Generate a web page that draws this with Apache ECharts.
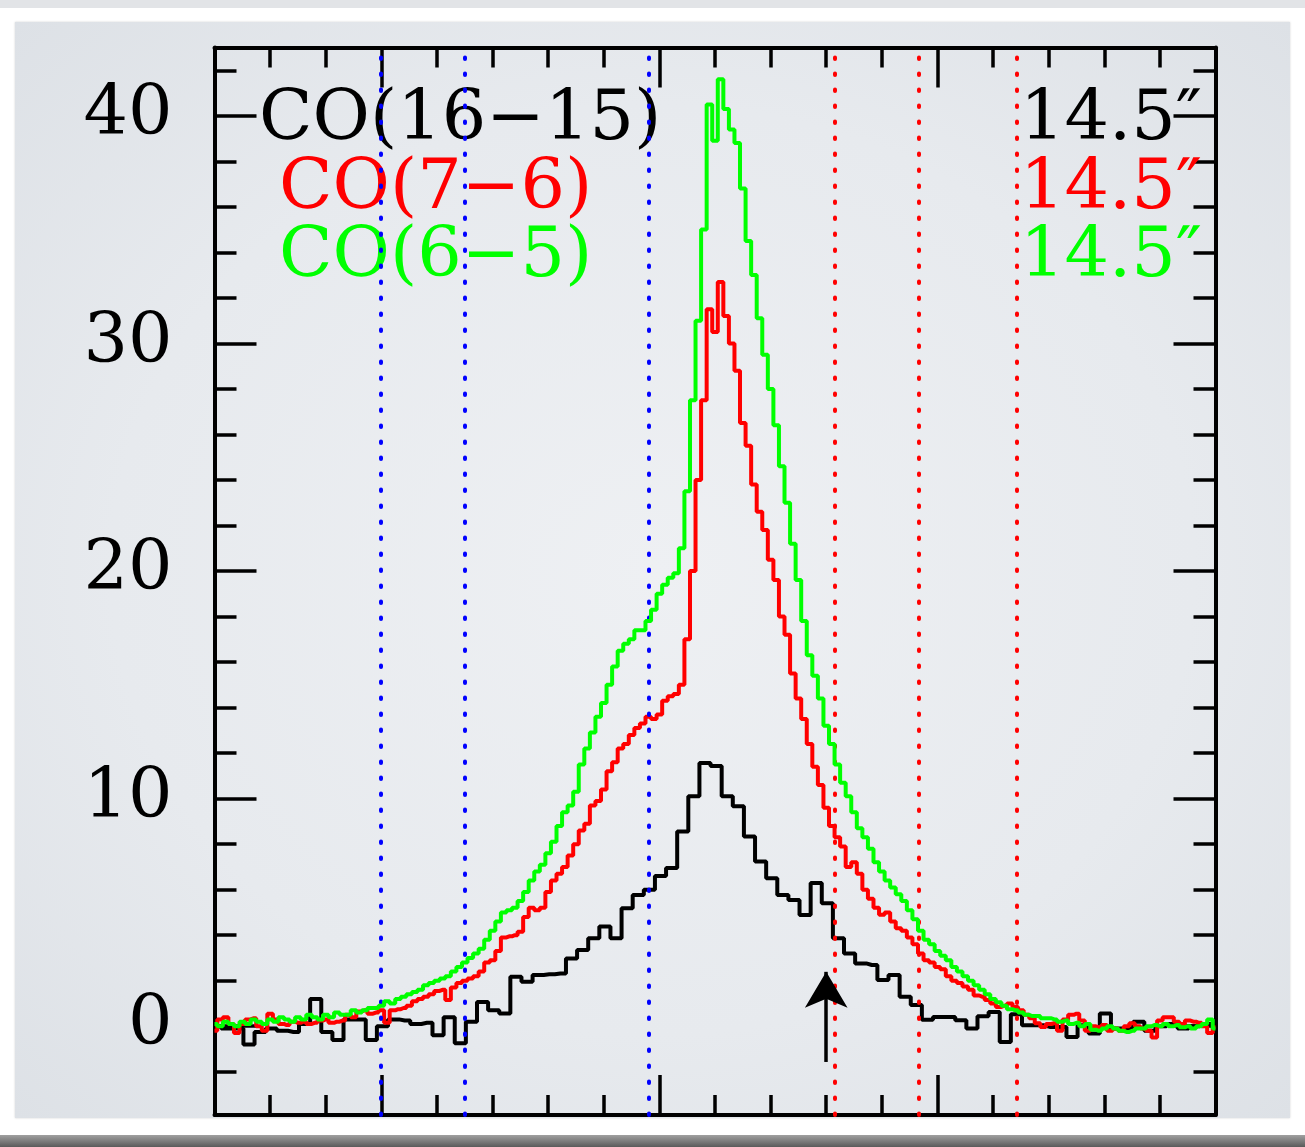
<!DOCTYPE html>
<html><head><meta charset="utf-8">
<script src="https://cdn.jsdelivr.net/npm/echarts@6/dist/echarts.min.js"></script>
<style>
html,body{margin:0;padding:0;background:#fff;}
#wrap{position:relative;width:1305px;height:1147px;overflow:hidden;background:#fff;}
#topstrip{position:absolute;left:0;top:0;width:1305px;height:8px;background:#e2e4e7;}
#panel{position:absolute;left:15px;top:22px;width:1275px;height:1096px;background:radial-gradient(ellipse at 50% 50%, #eef0f3 0%, #e7eaee 60%, #dde1e6 100%);box-shadow:0 0 2px rgba(0,0,0,0.18);}
#bottombar{position:absolute;left:0;top:1135px;width:1305px;height:12px;background:linear-gradient(#a0a0a0,#5a5a5a);}
#chart{position:absolute;left:0;top:0;width:1305px;height:1147px;}
</style></head>
<body><div id="wrap"><div id="topstrip"></div><div id="panel"></div><div id="bottombar"></div><div id="chart"></div></div>
<script>
// ---- data ----
const labels = ['CO(16\u221215)', 'CO(7\u22126)', 'CO(6\u22125)'];
const beamLabel = '14.5\u2033';
const yLabelValues = [0, 10, 20, 30, 40];
const yMinorTicks = [-2, 0, 2, 4, 6, 8, 10, 12, 14, 16, 18, 20, 22, 24, 26, 28, 30, 32, 34, 36, 38, 40, 42];
const xMajorTicks = [30, 80, 130, 180];
const blueLines = [29.9, 45.05, 78.0];
const redLines = [111.6, 126.6, 144.3];
const arrowX = 110.0, arrowFrom = -1.57, arrowTo = 2.39;

// CO(16-15): channel centres start at 0.2, width 2
const co16Start = 0.2, co16Step = 2;
const co16_15 = [
 0.0, -0.1, -0.1, -0.8, -0.25, -0.1, -0.2, -0.25, 0.1, 1.2,
 -0.25, -0.6, 0.3, 0.3, -0.6, 0.0, 0.3, 0.25, 0.1, 0.15,
 -0.4, 0.4, -0.75, 0.2, 1.07, 0.7, 0.56, 2.17, 1.95, 2.25,
 2.28, 2.32, 2.98, 3.35, 3.86, 4.38, 3.86, 5.18, 5.77, 6.0,
 6.6, 6.95, 8.56, 10.1, 11.57, 11.43, 10.1, 9.67, 8.34, 7.24,
 6.5, 5.77, 5.55, 4.89, 6.29, 5.4, 3.86, 3.2, 2.76, 2.69,
 2.03, 2.25, 1.29, 0.93, 0.29, 0.41, 0.41, 0.26, -0.1, 0.44,
 0.63, -0.69, 0.53, 0.04, 0.04, -0.03, -0.03, -0.47, 0.04, -0.32,
 0.56, -0.1, -0.1, 0.2, -0.2, 0.0, 0.1, -0.1, 0.0, 0.1, 0.0
];
// CO(7-6) and CO(6-5): channel centres start at 0, width 1
const fineStart = 0, fineStep = 1;
const co7_6 = [
 -0.2, 0.3, 0.4, 0.1, -0.3, 0.1, 0.3, 0.35, 0.0, -0.2,
 0.55, 0.3, 0.1, 0.05, 0.2, 0.15, 0.2, 0.1, 0.15, 0.25,
 0.3, 0.15, 0.2, 0.25, 0.5, 0.4, 0.65, 0.7, 0.55, 0.6,
 0.7, 0.15, 0.7, 0.75, 0.8, 0.9, 1.1, 1.2, 1.3, 1.4,
 1.55, 1.6, 1.15, 1.7, 1.9, 2.0, 2.1, 2.2, 2.4, 2.8,
 2.9, 3.3, 3.9, 3.95, 4.0, 4.15, 4.8, 5.2, 5.1, 5.2,
 5.9, 6.4, 6.7, 7.0, 7.5, 8.0, 8.6, 8.9, 9.7, 9.9,
 10.4, 11.2, 11.6, 12.2, 12.4, 12.8, 13.1, 13.3, 13.6, 13.5,
 13.7, 14.3, 14.5, 14.6, 15.0, 17.0, 20.0, 24.0, 27.5, 31.5,
 30.5, 32.7, 31.2, 30.0, 28.8, 26.5, 25.5, 23.8, 22.6, 21.8,
 20.5, 19.6, 18.0, 17.2, 15.5, 14.4, 13.5, 12.4, 11.4, 10.6,
 9.6, 8.8, 8.3, 7.9, 7.0, 7.2, 6.7, 6.0, 5.6, 5.2,
 4.9, 5.0, 4.6, 4.3, 4.2, 3.9, 3.6, 3.2, 2.9, 2.8,
 2.6, 2.5, 2.2, 2.0, 1.9, 1.75, 1.6, 1.35, 1.3, 1.15,
 1.0, 0.85, 0.9, 1.0, 0.85, 0.7, 0.5, 0.35, 0.13, -0.03,
 0.1, 0.13, -0.2, 0.3, 0.5, 0.55, 0.25, -0.2, 0.0, -0.05,
 0.05, -0.2, -0.1, -0.2, 0.0, 0.13, 0.0, -0.1, -0.2, -0.5,
 0.25, 0.4, 0.4, 0.2, 0.1, 0.25, 0.2, 0.15, 0.0, -0.3, -0.05
];
const co6_5 = [
 0.1, 0.0, 0.2, 0.1, 0.0, 0.2, 0.1, 0.3, 0.2, 0.1,
 0.3, 0.2, 0.4, 0.3, 0.2, 0.4, 0.3, 0.5, 0.4, 0.3,
 0.5, 0.4, 0.6, 0.5, 0.5, 0.7, 0.6, 0.7, 0.8, 0.8,
 0.9, 1.1, 1.0, 1.2, 1.3, 1.4, 1.5, 1.6, 1.8, 1.9,
 2.0, 2.1, 2.2, 2.4, 2.6, 2.8, 3.0, 3.2, 3.4, 3.8,
 4.2, 4.6, 5.0, 5.1, 5.2, 5.5, 5.9, 6.4, 6.8, 7.1,
 7.6, 8.1, 8.8, 9.4, 9.7, 10.3, 11.5, 12.2, 12.9, 13.6,
 14.2, 15.0, 15.8, 16.5, 16.8, 17.0, 17.4, 17.4, 17.8, 18.3,
 19.0, 19.4, 19.7, 19.9, 21.0, 23.5, 27.5, 31.0, 35.0, 40.5,
 38.9, 41.6, 40.3, 39.4, 38.8, 36.8, 34.5, 33.0, 31.1, 29.5,
 28.0, 26.4, 24.6, 23.0, 21.2, 19.6, 17.8, 16.3, 15.4, 14.4,
 13.2, 12.4, 11.5, 10.7, 10.1, 9.4, 8.7, 8.3, 7.8, 7.2,
 6.8, 6.4, 6.1, 5.8, 5.5, 5.1, 4.7, 4.2, 3.8, 3.6,
 3.3, 3.1, 2.9, 2.6, 2.4, 2.2, 2.0, 1.8, 1.6, 1.4,
 1.2, 1.05, 0.9, 0.75, 0.7, 0.6, 0.5, 0.45, 0.45, 0.35,
 0.35, 0.3, 0.2, 0.25, 0.1, 0.15, 0.0, 0.1, -0.15, -0.2,
 -0.1, 0.0, -0.1, -0.2, -0.25, -0.2, -0.1, -0.1, 0.0, 0.05,
 0.0, 0.1, 0.0, 0.05, -0.05, 0.0, -0.1, 0.0, 0.1, 0.3, -0.1
];

// ---- chart ----
const FONT = '"DejaVu Serif", serif';
const FS = 70;
const X_MIN = 0, X_MAX = 180, Y_MIN = -3.9, Y_MAX = 43.0;
const LW = 4;
const pairs = (arr, s, d) => arr.map((v, i) => [s + i * d, v]);

function axLine(show) { return { show: show, onZero: false, lineStyle: { color: '#000', width: 4 } }; }
function xAx(pos, major, line) {
  return {
    type: 'value', position: pos, min: X_MIN, max: X_MAX,
    interval: major ? undefined : 10,
    axisLine: axLine(line),
    axisTick: major
      ? { show: true, inside: true, length: 40, customValues: xMajorTicks, lineStyle: { color: '#000', width: 3.5 } }
      : { show: true, inside: true, length: 20, lineStyle: { color: '#000', width: 3.5 } },
    axisLabel: { show: false }, splitLine: { show: false }
  };
}
function yAx(pos, major, line, labelsOn) {
  return {
    type: 'value', position: pos, min: Y_MIN, max: Y_MAX,
    axisLine: axLine(line),
    axisTick: { show: true, inside: true, length: major ? 42 : 22,
      customValues: major ? yLabelValues : yMinorTicks, lineStyle: { color: '#000', width: 3.5 } },
    axisLabel: labelsOn
      ? { show: true, customValues: yLabelValues, margin: 42, color: '#000', fontFamily: FONT, fontSize: FS, padding: [9, 0, 0, 0] }
      : { show: false },
    splitLine: { show: false }
  };
}

const chart = echarts.init(document.getElementById('chart'), null, { renderer: 'canvas' });
const dash = [1.5, 14.5];
chart.setOption({
  animation: false,
  backgroundColor: 'transparent',
  grid: { left: 214.5, right: 1305 - 1215.5, top: 47.5, bottom: 1147 - 1115, containLabel: false },
  xAxis: [xAx('bottom', false, true), xAx('bottom', true, false), xAx('top', false, true), xAx('top', true, false)],
  yAxis: [yAx('left', false, true, true), yAx('left', true, false, false), yAx('right', false, true, false), yAx('right', true, false, false)],
  series: [
    {
      type: 'line', name: labels[0], data: pairs(co16_15, co16Start, co16Step), step: 'middle',
      showSymbol: false, symbol: 'none', lineStyle: { color: '#000', width: LW }, z: 3,
      markLine: {
        silent: true, symbol: 'none', label: { show: false },
        data: blueLines.map(v => ({ xAxis: v, lineStyle: { color: '#0000ff', type: dash, width: 4, cap: 'round' } }))
          .concat(redLines.map(v => ({ xAxis: v, lineStyle: { color: '#ff0000', type: dash, width: 4, cap: 'round' } })))
      }
    },
    {
      type: 'line', name: labels[1], data: pairs(co7_6, fineStart, fineStep), step: 'middle',
      showSymbol: false, symbol: 'none', lineStyle: { color: '#ff0000', width: LW }, z: 4,
      markLine: {
        silent: true, symbol: 'none', symbolSize: 30, label: { show: false },
        lineStyle: { color: '#000', width: 3.5, type: 'solid' },
        data: [[
          { coord: [arrowX, arrowFrom], symbol: 'none' },
          { coord: [arrowX, arrowTo], symbol: 'arrow', symbolSize: [32, 36] }
        ]]
      }
    },
    {
      type: 'line', name: labels[2], data: pairs(co6_5, fineStart, fineStep), step: 'middle',
      showSymbol: false, symbol: 'none', lineStyle: { color: '#00ff00', width: LW }, z: 5
    }
  ],
  graphic: [
    { type: 'text', x: 259, y: 121, z: 1, style: { text: labels[0], fill: '#000', font: FS + 'px ' + FONT, align: 'left', verticalAlign: 'middle' } },
    { type: 'text', x: 279, y: 190, z: 1, style: { text: labels[1], fill: '#ff0000', font: FS + 'px ' + FONT, align: 'left', verticalAlign: 'middle' } },
    { type: 'text', x: 279, y: 258, z: 1, style: { text: labels[2], fill: '#00ff00', font: FS + 'px ' + FONT, align: 'left', verticalAlign: 'middle' } },
    { type: 'text', x: 1020, y: 121, z: 1, style: { text: beamLabel, fill: '#000', font: FS + 'px ' + FONT, align: 'left', verticalAlign: 'middle' } },
    { type: 'text', x: 1020, y: 190, z: 1, style: { text: beamLabel, fill: '#ff0000', font: FS + 'px ' + FONT, align: 'left', verticalAlign: 'middle' } },
    { type: 'text', x: 1020, y: 258, z: 1, style: { text: beamLabel, fill: '#00ff00', font: FS + 'px ' + FONT, align: 'left', verticalAlign: 'middle' } }
  ]
});
</script></body></html>
